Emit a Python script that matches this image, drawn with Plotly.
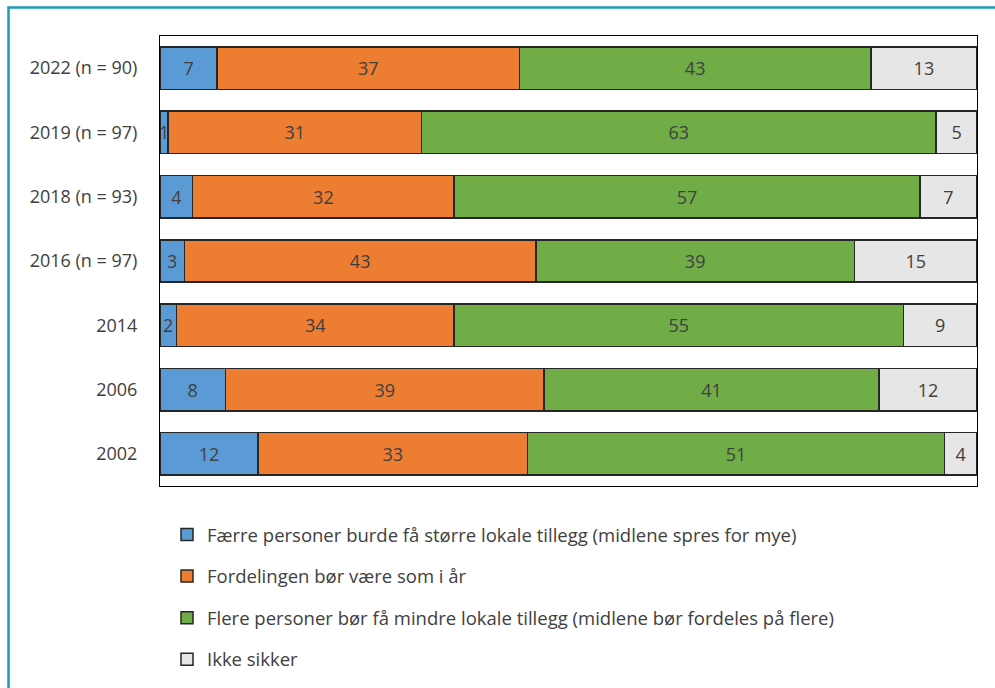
import plotly.graph_objects as go

years = ["2022 (n = 90)", "2019 (n = 97)", "2018 (n = 93)", "2016 (n = 97)", "2014", "2006", "2002"]
faerre = [7, 1, 4, 3, 2, 8, 12]
fordeling = [37, 31, 32, 43, 34, 39, 33]
flere = [43, 63, 57, 39, 55, 41, 51]
ikke_sikker = [13, 5, 7, 15, 9, 12, 4]

series = [
    ("Færre personer burde få større lokale tillegg (midlene spres for mye)", faerre, "#5b9bd5"),
    ("Fordelingen bør være som i år", fordeling, "#ed7d31"),
    ("Flere personer bør få mindre lokale tillegg (midlene bør fordeles på flere)", flere, "#70ad47"),
    ("Ikke sikker", ikke_sikker, "#e7e6e6"),
]

FONT = "Open Sans"
TXT = "#404040"
FS = 18

fig = go.Figure()
for i, (name, vals, color) in enumerate(series):
    fig.add_trace(go.Bar(
        y=years, x=vals, name=name, orientation="h",
        marker=dict(color=color, line=dict(color="#262626", width=1.5)),
        text=[str(v) for v in vals], textposition="inside",
        insidetextanchor="middle", constraintext="none",
        textfont=dict(family=FONT, size=FS, color=TXT),
        legendgroup=f"g{i}", hoverinfo="skip",
    ))

W, H = 995, 688
ml, mr, mt, mb = 160, 18, 36, 202
pw, ph = W - ml - mr, H - mt - mb

def px_x(px):
    return (px - ml) / pw

def px_y(py):
    return (H - mb - py) / ph

fig.update_layout(
    width=W, height=H,
    margin=dict(l=ml, r=mr, t=mt, b=mb, pad=0, autoexpand=False),
    barmode="stack", bargap=0.34,
    paper_bgcolor="white", plot_bgcolor="white",
    font=dict(family=FONT, size=FS, color=TXT),
    showlegend=True,
    legend=dict(
        orientation="v", traceorder="grouped", tracegroupgap=14.5,
        x=px_x(167), y=px_y(516), xanchor="left", yanchor="top",
        font=dict(family=FONT, size=18.5, color=TXT),
        itemwidth=30, bgcolor="rgba(0,0,0,0)",
    ),
    xaxis=dict(range=[0, 100], showticklabels=False, showgrid=False, zeroline=False,
               showline=True, mirror=True, linecolor="#000000", linewidth=1, ticks=""),
    yaxis=dict(autorange="reversed", showgrid=False, zeroline=False,
               showline=True, mirror=True, linecolor="#000000", linewidth=1,
               ticks="", ticklabelstandoff=18,
               tickfont=dict(family=FONT, size=FS, color=TXT)),
    shapes=[
        dict(type="rect", xref="paper", yref="paper",
             x0=px_x(8.5), x1=px_x(1010), y0=px_y(7.5), y1=px_y(700),
             line=dict(color="#1a9bb5", width=2.5), fillcolor="rgba(0,0,0,0)", layer="below"),
    ],
)

fig.write_html("out.html")
